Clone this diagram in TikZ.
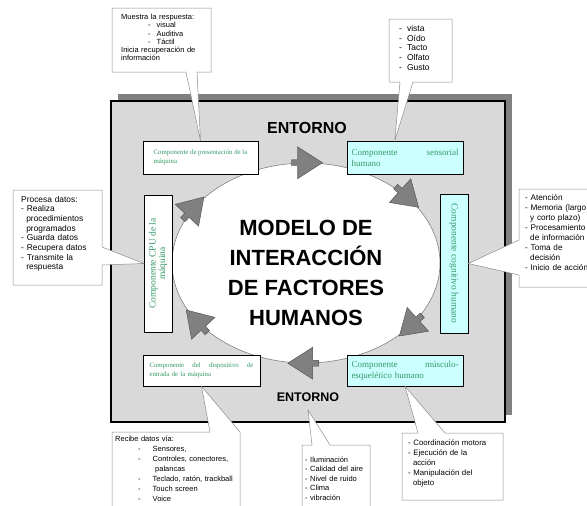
\documentclass[tikz,border=0pt]{standalone}
\usepackage{fontspec}
\setmainfont{Liberation Serif}
\setsansfont{Liberation Sans}
\usetikzlibrary{shapes.geometric,shadows}
\definecolor{boxgreen}{RGB}{51,153,102}
\definecolor{boxcyan}{RGB}{204,255,255}
\definecolor{envgray}{RGB}{217,217,217}
\definecolor{shadegray}{RGB}{128,128,128}
\definecolor{notegray}{RGB}{140,140,140}

\begin{document}
\begin{tikzpicture}[x=1pt, y=-1pt,
  comp/.style={draw=black, line width=0.5pt, text=boxgreen, inner sep=0pt},
  machine/.style={comp, fill=white},
  human/.style={comp, fill=boxcyan},
  notebox/.style={draw=notegray, line width=0.5pt, fill=white},
  notetext/.style={anchor=base west, inner sep=0pt, align=left, text width=#1},
  flowarrow/.style={fill=shadegray, draw=black!70, line width=0.4pt},
  entorno/.style={font=\sffamily\bfseries\fontsize{#1}{#1}\selectfont}]
\useasboundingbox (0,0) rectangle (587,506);
\clip (0,0) rectangle (587,506);

% environment
\node[draw=black, line width=1.5pt, fill=envgray, minimum width=394, minimum height=321,
  drop shadow={shadow xshift=7pt, shadow yshift=7pt, fill=shadegray, opacity=1}] (env) at (308,261.5) {};
\node[ellipse, draw=shadegray, fill=white, line width=0.6pt, minimum width=268, minimum height=200, inner sep=0pt] (ring) at (306,263) {};

% flow arrows on the ring
\foreach \a/\r in {88/0, 32/-42, 328/-138, 267/180, 207/133, 153/47}
  \draw[flowarrow, shift={(ring.\a)}, rotate=\r] (-18pt,-3pt) -- (-12pt,-3pt) -- (-12pt,-16pt) -- (13pt,0pt) -- (-12pt,16pt) -- (-12pt,3pt) -- (-18pt,3pt) -- cycle;

% components
\node[machine, minimum width=115, minimum height=33, align=left, font=\fontsize{6.8}{9}\selectfont] (pres) at (200.5,157.5) {Componente de presentación de la\\máquina};
\node[human, minimum width=116, minimum height=33, text width=107pt, align=left, font=\fontsize{9}{11}\selectfont] (sens) at (405,157.5) {\makebox[107pt][l]{Componente\hfill sensorial}\\humano};
\node[human, rotate=-90, minimum width=139, minimum height=28, font=\fontsize{9.5}{11}\selectfont] (cog) at (454,263.5) {Componente cognitivo humano};
\node[human, minimum width=116, minimum height=31, text width=107pt, align=left, font=\fontsize{9}{11}\selectfont] (mus) at (405,370.5) {\makebox[107pt][l]{Componente\hfill músculo-}\\esquelético humano};
\node[machine, minimum width=117, minimum height=31, text width=104pt, align=left, font=\fontsize{6.8}{8.5}\selectfont] (disp) at (201.5,370.5) {\makebox[104pt][l]{Componente\hfill del\hfill dispositivo\hfill de}\\entrada de la máquina};
\node[machine, rotate=90, minimum width=137, minimum height=28, align=center, font=\fontsize{9.5}{9.5}\selectfont] (cpu) at (158,263.5) {Componente CPU de la\\máquina};

\node[entorno=16] (ent1) at (307,128) {ENTORNO};
\node[entorno=12.5] (ent2) at (308,397) {ENTORNO};
\node[align=center, font=\sffamily\bfseries\fontsize{22}{30}\selectfont] (title) at (306,273) {MODELO DE\\INTERACCIÓN\\DE FACTORES\\HUMANOS};

% callouts
\draw[notebox] (112,8) -- (211,8) -- (211,72) -- (197,72) -- (pres.north) -- (186,72) -- (112,72) -- cycle;
\node[notetext=88pt, font=\sffamily\fontsize{7.5}{8.2}\selectfont] (shownote) at (121,19.7) {Muestra la respuesta:\\\hspace*{27pt}-\hspace*{6pt}visual\\\hspace*{27pt}-\hspace*{6pt}Auditiva\\\hspace*{27pt}-\hspace*{6pt}Táctil\\Inicia recuperación de\\información};

\draw[notebox] (389,19) -- (452,19) -- (452,82) -- (413,82) -- ([xshift=48pt]sens.north west) -- (400,82) -- (389,82) -- cycle;
\node[notetext=50pt, font=\sffamily\fontsize{8.5}{9.7}\selectfont] (sensnote) at (399,31.5) {-\hspace*{5pt}vista\\-\hspace*{5pt}Oído\\-\hspace*{5pt}Tacto\\-\hspace*{5pt}Olfato\\-\hspace*{5pt}Gusto};

\draw[notebox] (13,190) -- (102,190) -- (102,247) -- (cpu.north) -- (102,265) -- (102,285) -- (13,285) -- cycle;
\node[notetext=80pt, font=\sffamily\fontsize{8.4}{9.7}\selectfont] (cpunote) at (21,202) {Procesa datos:\\- Realiza\\\hspace*{5.1pt}procedimientos\\\hspace*{5.1pt}programados\\- Guarda datos\\- Recupera datos\\- Transmite la\\\hspace*{5.1pt}respuesta};

\draw[notebox] (519,189) -- (600,189) -- (600,287) -- (519,287) -- (519,275) -- (cog.north) -- (519,240) -- cycle;
\node[notetext=90pt, font=\sffamily\fontsize{8.2}{10}\selectfont] (cognote) at (525,200) {- Atención\\- Memoria (largo\\\hspace*{5pt}y corto plazo)\\- Procesamiento\\\hspace*{5pt}de información\\- Toma de\\\hspace*{5pt}decisión\\- Inicio de acción};

\draw[notebox] (112,432) -- (210,432) -- (disp.south) -- (240,432) -- (240,520) -- (112,520) -- cycle;
\node[notetext=125pt, font=\sffamily\fontsize{7.5}{10}\selectfont] (dispnote) at (115,441) {Recibe datos vía:\\\hspace*{23pt}-\hspace*{12pt}Sensores,\\\hspace*{23pt}-\hspace*{12pt}Controles, conectores,\\\hspace*{40pt}palancas\\\hspace*{23pt}-\hspace*{12pt}Teclado, ratón, trackball\\\hspace*{23pt}-\hspace*{12pt}Touch screen\\\hspace*{23pt}-\hspace*{12pt}Voice};

\draw[notebox] (302,445) -- (312,445) -- ([yshift=-5pt]ent2.south) -- (330,445) -- (370,445) -- (370,520) -- (302,520) -- cycle;
\node[notetext=66pt, font=\sffamily\fontsize{7.5}{9.5}\selectfont] (envnote) at (305,462) {- Iluminación\\- Calidad del aire\\- Nivel de ruido\\- Clima\\- vibración};

\draw[notebox] (402,433) -- (418,433) -- (mus.south) -- (445,433) -- (503,433) -- (503,500) -- (402,500) -- cycle;
\node[notetext=92pt, font=\sffamily\fontsize{7.8}{10}\selectfont] (musnote) at (408,445) {- Coordinación motora\\- Ejecución de la\\\hspace*{4.8pt}acción\\- Manipulación del\\\hspace*{4.8pt}objeto};
\end{tikzpicture}
\end{document}
